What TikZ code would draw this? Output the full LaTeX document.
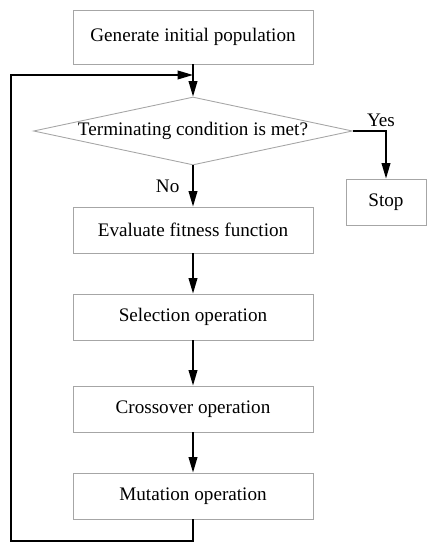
\documentclass[tikz,border=0pt]{standalone}
\usepackage{fontspec}
\setmainfont{Liberation Serif}
\usepackage{tikz}
\usetikzlibrary{arrows.meta, shapes.geometric, positioning}

\begin{document}
\begin{tikzpicture}[x=0.02cm, y=-0.02cm,
    font=\fontsize{10.9}{13}\selectfont,
    box/.style={draw=black!35, line width=0.5pt, minimum width=4.8cm, minimum height=0.92cm, inner sep=0pt},
    cond/.style={draw=black!35, line width=0.5pt, diamond, aspect=4.7, minimum width=6.38cm, minimum height=1.36cm, inner sep=0pt},
    arr/.style={line width=0.85pt, -{Triangle[length=3.1mm,width=1.75mm]}}]
    \useasboundingbox (0,0) rectangle (436,550);
    % Boxes
    \node[box, minimum height=1.08cm] (init) at (193,37) {Generate initial population};
    \node[cond] (test) at (193,131) {Terminating condition is met?};
    \node[box, minimum width=1.6cm] (stop) at (386,202) {Stop};
    \foreach \name/\y/\txt in {eval/230/Evaluate fitness function, sel/317/Selection operation, cross/409/Crossover operation, mut/496/Mutation operation}
        \node[box] (\name) at (193,\y) {\txt};
    \coordinate (join) at (193,75);
    \coordinate (corner) at (11,541);
    % Arrows
    \draw[arr] (init) -- (test);
    \draw[arr] (test.east) -| (stop.north) node[pos=0.5, above, xshift=-0.1cm, yshift=-0.05cm] {Yes};
    \draw[arr] (test.south) -- (eval.north) node[midway, left, xshift=-0.14cm] {No};
    \foreach \a/\b in {eval/sel, sel/cross, cross/mut}
        \draw[arr] (\a) -- (\b);
    % Loop back
    \draw[arr] (mut.south) |- (corner) |- (join);
\end{tikzpicture}
\end{document}
